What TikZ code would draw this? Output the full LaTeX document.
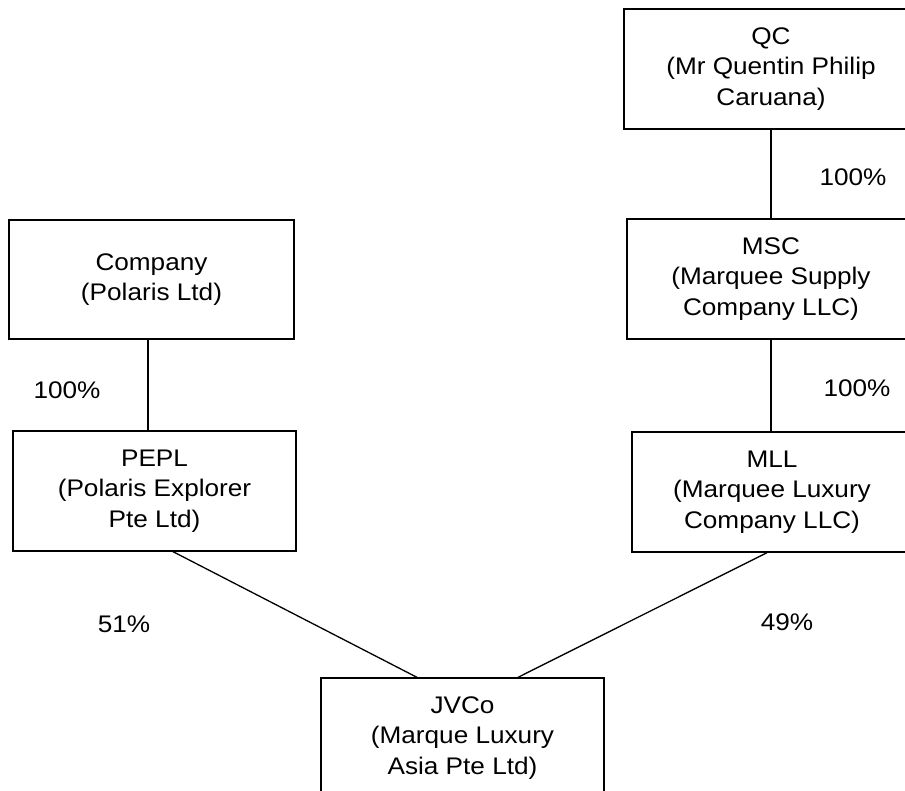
\documentclass[tikz,border=0pt]{standalone}
\usepackage{fontspec}
\setmainfont{Liberation Sans}[FakeStretch=1.09]
\begin{document}
\begin{tikzpicture}[x=1pt,y=-1pt,
  box/.style={draw=black, line width=1.3pt, rectangle, inner sep=0pt, align=center,
    font=\fontsize{24}{30.5}\selectfont},
  pct/.style={inner sep=0pt, font=\fontsize{24}{30.5}\selectfont},
  conn/.style={draw=black, line width=1.3pt}]
\useasboundingbox (0,0) rectangle (905,791);
\clip (0,0) rectangle (905,791);
\fill[white] (0,0) rectangle (905,791);
\node[box, minimum width=294pt, minimum height=120pt] (QC) at (771,69) {QC\\(Mr Quentin Philip\\Caruana)};
\node[box, minimum width=288pt, minimum height=120pt] (MSC) at (771,279) {MSC\\(Marquee Supply\\Company LLC)};
\node[box, minimum width=285pt, minimum height=119pt] (Company) at (151.5,279.5) {Company\\(Polaris Ltd)};
\node[box, minimum width=283pt, minimum height=120pt] (PEPL) at (154.5,491) {PEPL\\(Polaris Explorer\\Pte Ltd)};
\node[box, minimum width=280pt, minimum height=120pt] (MLL) at (772,492) {MLL\\(Marquee Luxury\\Company LLC)};
\node[box, minimum width=283pt, minimum height=120pt] (JVCo) at (462.5,738) {JVCo\\(Marque Luxury\\Asia Pte Ltd)};
\draw[conn] (QC.south) -- (MSC.north);
\draw[conn] ([xshift=-3.5pt]Company.south) -- ([xshift=-6.5pt]PEPL.north);
\draw[conn] (MSC.south) -- (MSC.south |- MLL.north);
\draw[conn] ([xshift=18.5pt]PEPL.south) -- ([xshift=-45.5pt]JVCo.north);
\draw[conn] ([xshift=-5pt]MLL.south) -- ([xshift=55.5pt]JVCo.north);
\node[pct] (p1) at (853,177) {100\%};
\node[pct] (p2) at (67,390) {100\%};
\node[pct] (p3) at (857,388) {100\%};
\node[pct] (p4) at (124,624) {51\%};
\node[pct] (p5) at (787,622) {49\%};
\end{tikzpicture}
\end{document}
